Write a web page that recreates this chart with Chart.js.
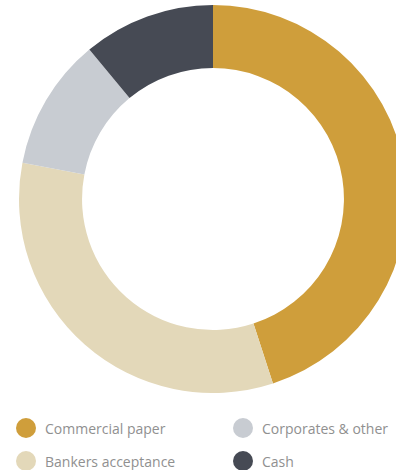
<!DOCTYPE html>
<html>
<head>
<meta charset="utf-8">
<script src="https://cdn.jsdelivr.net/npm/chart.js@4"></script>
<style>
  html, body { margin: 0; padding: 0; background: #fff; overflow: hidden; width: 396px; height: 470px; }
  #wrap { position: absolute; left: 0; top: 5px; width: 426px; height: 388px; }
  .legend { position: absolute; font-family: "Open Sans", sans-serif; font-size: 14px; color: #909090; }
  .item { position: absolute; white-space: nowrap; display: flex; align-items: center; }
  .dot { width: 20px; height: 20px; border-radius: 50%; margin-right: 9px; }
</style>
</head>
<body>
<div id="wrap"><canvas id="chart"></canvas></div>
<div class="legend" id="legend"></div>
<script>
// Portfolio mix
const labels = ['Commercial paper', 'Bankers acceptance', 'Corporates & other', 'Cash'];
const shares = [45, 33, 11, 11];
const colors = ['#CF9E3B', '#E3D8B9', '#C8CCD2', '#464A54'];

new Chart(document.getElementById('chart'), {
  type: 'doughnut',
  data: {
    labels: labels,
    datasets: [{
      data: shares,
      backgroundColor: colors,
      borderWidth: 0
    }]
  },
  options: {
    responsive: true,
    maintainAspectRatio: false,
    animation: false,
    cutout: '67.5%',
    plugins: {
      legend: { display: false },
      tooltip: { enabled: false }
    }
  }
});

// Legend, two columns (column-major order)
const legend = document.getElementById('legend');
labels.forEach((name, i) => {
  const col = Math.floor(i / 2), row = i % 2;
  const el = document.createElement('div');
  el.className = 'item';
  el.style.left = (16 + col * 217) + 'px';
  el.style.top = (418 + row * 33) + 'px';
  el.innerHTML = `<span class="dot" style="background:${colors[i]}"></span><span>${name}</span>`;
  legend.appendChild(el);
});
</script>
</body>
</html>
